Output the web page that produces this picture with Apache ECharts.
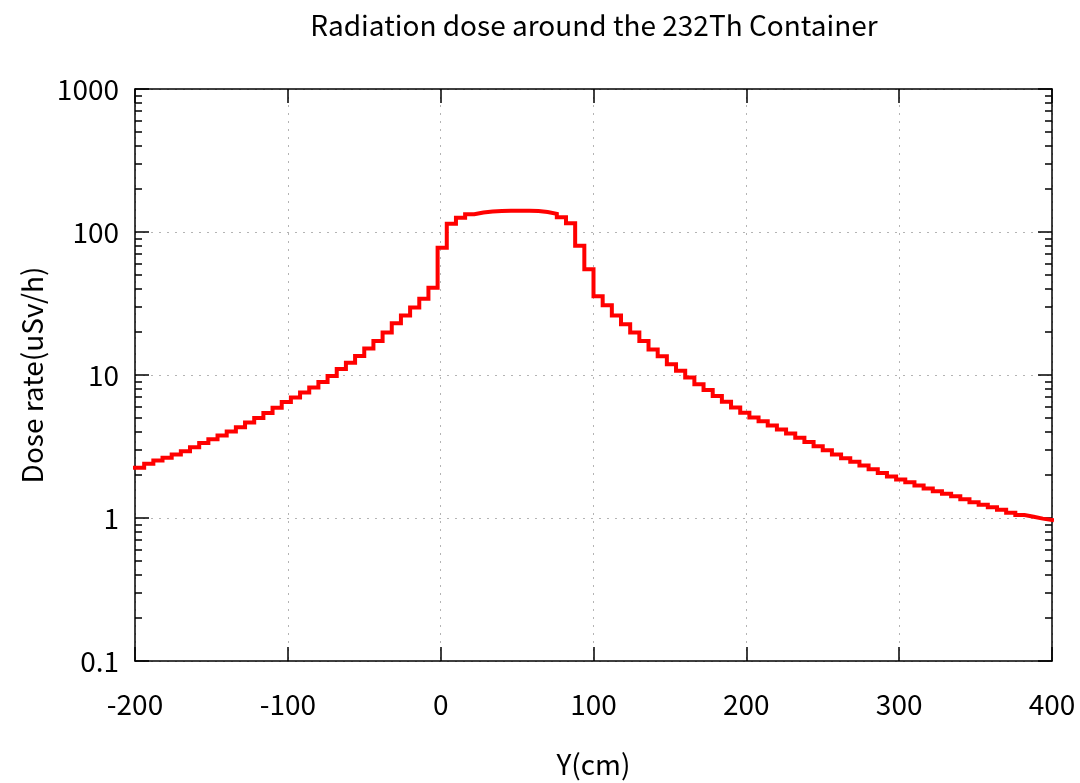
<!DOCTYPE html>
<html>
<head>
<meta charset="utf-8">
<script src="https://cdn.jsdelivr.net/npm/echarts@6/dist/echarts.min.js"></script>
<style>
    html, body { margin: 0; padding: 0; background: #fff; }
    #chart { width: 1080px; height: 783px; }
</style>
</head>
<body>
<div id="chart"></div>
<script>
// 网格: Y 方向 -200 ~ 400 cm, 每格 6 cm
const binStart = -200
const binWidth = 6
const doseRate = [
    2.25, 2.4, 2.52, 2.64, 2.78, 2.93, 3.12, 3.34, 3.56, 3.78,
    4.02, 4.32, 4.65, 5.0, 5.42, 5.9, 6.48, 6.96, 7.54, 8.17,
    8.94, 9.85, 11.0, 12.2, 13.6, 15.3, 17.3, 19.8, 23.0, 26.1,
    29.6, 34.2, 40.8, 77.6, 114, 126, 133, 137, 139, 140,
    141, 141, 141, 140, 138, 134, 127, 115, 80, 55,
    35.6, 30.7, 26.1, 22.6, 19.8, 17.3, 15.1, 13.5, 11.9, 10.7,
    9.6, 8.62, 7.87, 7.14, 6.49, 5.93, 5.45, 5.05, 4.75, 4.43,
    4.15, 3.9, 3.64, 3.4, 3.17, 2.98, 2.78, 2.62, 2.47, 2.33,
    2.19, 2.06, 1.95, 1.86, 1.78, 1.69, 1.61, 1.54, 1.48, 1.42,
    1.35, 1.29, 1.24, 1.19, 1.14, 1.09, 1.05, 1.02, 0.99, 0.97
]
const xTicks = [-200, -100, 0, 100, 200, 300, 400]
const yTicks = [0.1, 1, 10, 100, 1000]
const yMinorTicks = [
    0.2, 0.3, 0.4, 0.5, 0.6, 0.7, 0.8, 0.9,
    2, 3, 4, 5, 6, 7, 8, 9,
    20, 30, 40, 50, 60, 70, 80, 90,
    200, 300, 400, 500, 600, 700, 800, 900
]

const fontFamily = '"Noto Sans CJK JP", "Noto Sans", sans-serif'
const fontSize = 28

// steps: 每个 bin 从左边界开始画, 最后补右边界
const stepData = doseRate.map((v, i) => [binStart + i * binWidth, v])
stepData.push([binStart + doseRate.length * binWidth, doseRate[doseRate.length - 1]])

const axisLine = { show: true, onZero: false, lineStyle: { color: '#000', width: 1.5 } }
const gridLine = {
    show: true,
    lineStyle: { color: '#b4b4b4', width: 1, type: [2, 6] }
}

function yAxisDef(position, minor, withLabel) {
    return {
        type: 'log',
        logBase: 10,
        min: 0.1,
        max: 1000,
        position: position,
        axisLine: minor ? { show: false, onZero: false } : axisLine,
        axisTick: {
            show: true,
            inside: true,
            length: minor ? 7 : 14,
            customValues: minor ? yMinorTicks : yTicks,
            lineStyle: { color: '#000', width: 1.5 }
        },
        minorTick: { show: false },
        axisLabel: {
            show: withLabel,
            customValues: yTicks,
            margin: 16,
            color: '#000',
            fontFamily: fontFamily,
            fontSize: fontSize,
            formatter: v => String(v)
        },
        splitLine: withLabel ? gridLine : { show: false },
        name: withLabel ? 'Dose rate(uSv/h)' : '',
        nameLocation: 'middle',
        nameGap: 87,
        nameTextStyle: { color: '#000', fontFamily: fontFamily, fontSize: fontSize }
    }
}

function xAxisDef(position, withLabel) {
    return {
        type: 'value',
        min: -200,
        max: 400,
        interval: 100,
        position: position,
        axisLine: axisLine,
        axisTick: {
            show: true,
            inside: true,
            length: 14,
            customValues: xTicks,
            lineStyle: { color: '#000', width: 1.5 }
        },
        axisLabel: {
            show: withLabel,
            margin: 29,
            color: '#000',
            fontFamily: fontFamily,
            fontSize: fontSize
        },
        splitLine: withLabel ? gridLine : { show: false },
        name: withLabel ? 'Y(cm)' : '',
        nameLocation: 'middle',
        nameGap: 89,
        nameTextStyle: { color: '#000', fontFamily: fontFamily, fontSize: fontSize }
    }
}

const option = {
    animation: false,
    backgroundColor: '#fff',
    title: {
        text: 'Radiation dose around the 232Th Container',
        left: 589,
        top: 6,
        textAlign: 'center',
        textStyle: {
            color: '#000',
            fontWeight: 'normal',
            fontFamily: fontFamily,
            fontSize: fontSize
        }
    },
    grid: {
        left: 135,
        right: 28,
        top: 89,
        bottom: 121,
        containLabel: false
    },
    xAxis: [xAxisDef('bottom', true), xAxisDef('top', false)],
    yAxis: [
        yAxisDef('left', false, true),
        yAxisDef('left', true, false),
        yAxisDef('right', false, false),
        yAxisDef('right', true, false)
    ],
    series: [
        {
            name: 'dose',
            type: 'line',
            xAxisIndex: 0,
            yAxisIndex: 0,
            step: 'end',
            data: stepData,
            showSymbol: false,
            symbol: 'none',
            lineStyle: { color: '#ff0000', width: 4, cap: 'square', join: 'miter' },
            z: 1
        }
    ]
}

const chart = echarts.init(document.getElementById('chart'))
chart.setOption(option)
window.addEventListener('resize', () => chart.resize())
</script>
</body>
</html>
